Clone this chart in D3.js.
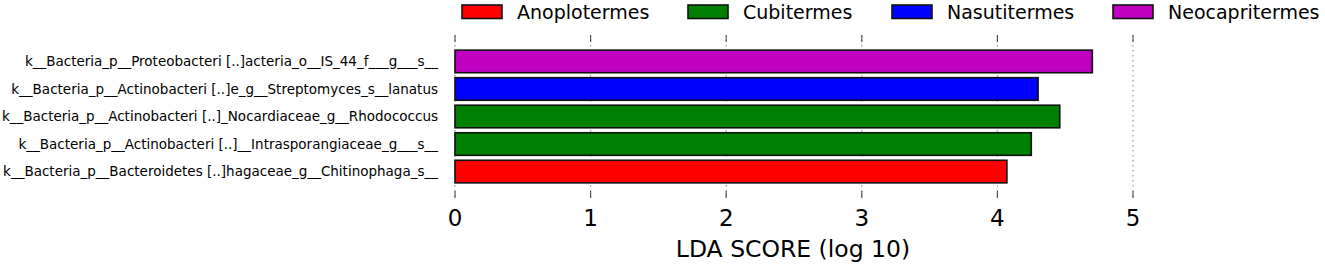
<!DOCTYPE html>
<html>
<head>
<meta charset="utf-8">
<script src="https://cdn.jsdelivr.net/npm/d3@7"></script>
<style>
  html, body { margin: 0; padding: 0; background: #fff; }
  svg { display: block; }
  text { font-family: "DejaVu Sans", sans-serif; fill: #000; }
</style>
</head>
<body>
<svg id="chart" width="1325" height="265"></svg>
<script>
// ---- data ----
const features = [
  "k__Bacteria_p__Proteobacteri [..]acteria_o__IS_44_f___g___s__",
  "k__Bacteria_p__Actinobacteri [..]e_g__Streptomyces_s__lanatus",
  "k__Bacteria_p__Actinobacteri [..]_Nocardiaceae_g__Rhodococcus",
  "k__Bacteria_p__Actinobacteri [..]__Intrasporangiaceae_g___s__",
  "k__Bacteria_p__Bacteroidetes [..]hagaceae_g__Chitinophaga_s__"
];
const ldaScores = [4.70, 4.30, 4.46, 4.25, 4.07];
const featureGroups = ["Neocapritermes", "Nasutitermes", "Cubitermes", "Cubitermes", "Anoplotermes"];
const groups = ["Anoplotermes", "Cubitermes", "Nasutitermes", "Neocapritermes"];
const groupColors = ["#ff0000", "#008000", "#0000ff", "#c000c0"];
const xTicks = [0, 1, 2, 3, 4, 5];
const xLabel = "LDA SCORE (log 10)";

// ---- layout ----
const svg = d3.select("#chart");
const plot = { left: 455, right: 1133, top: 35, bottom: 198 };

const x = d3.scaleLinear().domain([0, 5]).range([plot.left, plot.right]);
const y = d3.scaleBand().domain(features).range([plot.top, plot.bottom])
  .paddingInner(0.18).paddingOuter(0.55);
const color = d3.scaleOrdinal().domain(groups).range(groupColors);

// grid lines (dotted)
svg.append("g").selectAll("line").data(xTicks).join("line")
  .attr("x1", d => x(d)).attr("x2", d => x(d))
  .attr("y1", plot.top).attr("y2", plot.bottom)
  .attr("stroke", "#9a9a9a").attr("stroke-width", 1.2)
  .attr("stroke-dasharray", "1.5,3.5");

// bars
svg.append("g").selectAll("rect").data(features).join("rect")
  .attr("x", x(0))
  .attr("y", d => y(d))
  .attr("width", (d, i) => x(ldaScores[i]) - x(0))
  .attr("height", y.bandwidth())
  .attr("fill", (d, i) => color(featureGroups[i]))
  .attr("stroke", "#111").attr("stroke-width", 1.6);

// tick marks (inward, top and bottom)
const ticksG = svg.append("g");
ticksG.selectAll("line.top").data(xTicks).join("line").attr("class", "top")
  .attr("x1", d => x(d)).attr("x2", d => x(d))
  .attr("y1", plot.top).attr("y2", plot.top + 7)
  .attr("stroke", "#555").attr("stroke-width", 1.2);
ticksG.selectAll("line.bot").data(xTicks).join("line").attr("class", "bot")
  .attr("x1", d => x(d)).attr("x2", d => x(d))
  .attr("y1", plot.bottom - 7).attr("y2", plot.bottom)
  .attr("stroke", "#555").attr("stroke-width", 1.2);

// x tick labels
svg.append("g").selectAll("text").data(xTicks).join("text")
  .attr("x", d => x(d)).attr("y", 226)
  .attr("text-anchor", "middle")
  .style("font-size", "23px")
  .text(d => d);

// x axis label
svg.append("text")
  .attr("x", 793).attr("y", 257)
  .attr("text-anchor", "middle")
  .style("font-size", "23.5px")
  .text(xLabel);

// y labels
svg.append("g").selectAll("text").data(features).join("text")
  .attr("x", 438)
  .attr("y", d => y(d) + y.bandwidth() / 2)
  .attr("dy", "0.35em")
  .attr("text-anchor", "end")
  .style("font-size", "13.5px")
  .text(d => d);

// legend
const legendX = [462, 688, 892, 1113];
const leg = svg.append("g").selectAll("g").data(groups).join("g")
  .attr("transform", (d, i) => `translate(${legendX[i]},0)`);
leg.append("rect")
  .attr("x", 0).attr("y", 5).attr("width", 40).attr("height", 13.5)
  .attr("fill", d => color(d)).attr("stroke", "#111").attr("stroke-width", 1.6);
leg.append("text")
  .attr("x", 55).attr("y", 18.5)
  .style("font-size", "19px")
  .text(d => d);
</script>
</body>
</html>
